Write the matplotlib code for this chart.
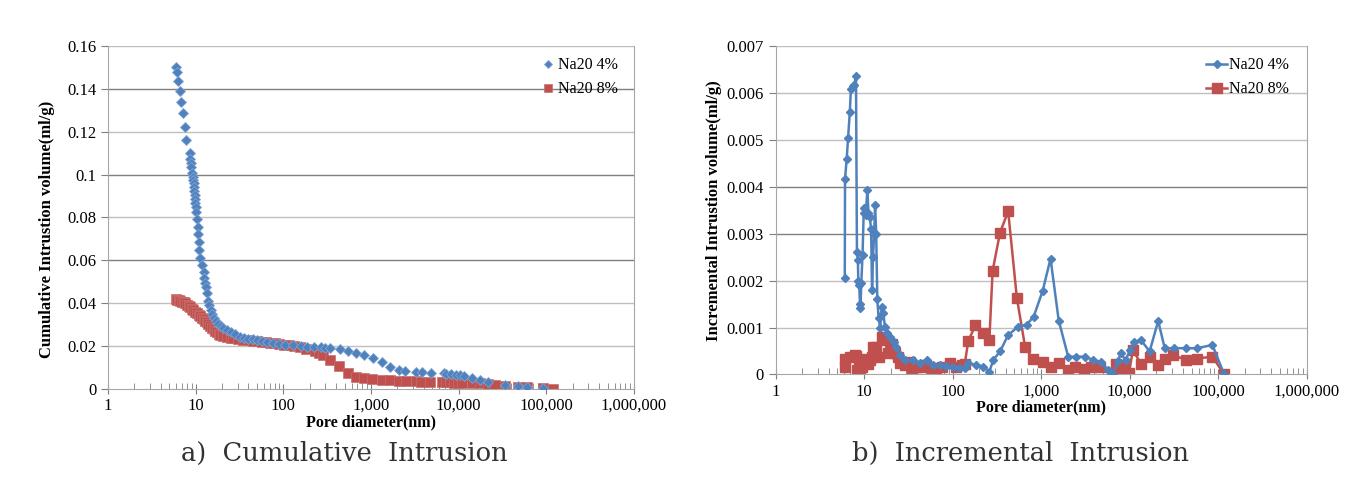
import numpy as np
import matplotlib
matplotlib.use('Agg')
import matplotlib.pyplot as plt
from matplotlib.ticker import FixedLocator, LogLocator, FuncFormatter, NullFormatter

# Cumulative intrusion, Na20 4%
cum4_x = [6.04, 6.1, 6.3, 6.6, 6.75, 7.2, 7.6, 7.85, 8.5, 8.6, 8.75, 8.85, 9.19, 9.25,
          9.36, 9.45, 9.6, 9.68, 9.76, 9.85, 9.93, 10.0, 10.1, 10.3, 10.5, 10.6, 10.8,
          11.0, 11.3, 11.7, 12.3, 12.5, 12.8, 13.2, 13.4, 13.7, 14.2, 14.8, 15.5, 16.3,
          17.2, 18.2, 19.3, 20.5, 22.7, 25, 28, 32, 36, 40, 45, 50, 57, 65, 77, 90, 105,
          130, 160, 187, 225, 266, 300, 344, 440, 552, 680, 826, 1050, 1320, 1630, 2090,
          2460, 3230, 3830, 4800, 6780, 7200, 8100, 9300, 10400, 11600, 14200, 17600,
          21400, 33500, 47000, 61000, 92000]
cum4_y = [.1503, .148, .1438, .139, .134, .1286, .122, .1163, .110, .1074, .1056, .1034,
          .1006, .099, .0975, .096, .0944, .0925, .0905, .0885, .0866, .0848, .0826,
          .0793, .0754, .0723, .0687, .0648, .0612, .0578, .0547, .0516, .0493, .0474,
          .0446, .0412, .0392, .0370, .0350, .0333, .0318, .0305, .0294, .0285, .0275,
          .0265, .0255, .0244, .0238, .0234, .0231, .0229, .0224, .0218, .0213, .0209,
          .0207, .0205, .0200, .0197, .0196, .0194, .0192, .0190, .0185, .0177, .0167,
          .0159, .0146, .0124, .0101, .0089, .0085, .0081, .0078, .0073, .0073, .0072,
          .0070, .0067, .0064, .0061, .0051, .0042, .0033, .0020, .0015, .0011, .0006]

# Cumulative intrusion, Na20 8%
cum8_x = [6.0, 6.2, 6.4, 6.7, 7.0, 7.3, 7.6, 8.0, 8.3, 8.7, 9.0, 9.4, 9.9, 10.4, 10.8,
          11.3, 11.8, 12.3, 12.8, 13.3, 13.9, 14.6, 15.2, 16.0, 16.7, 17.5, 18.3, 19.1,
          20.5, 22.7, 25, 27, 30, 35, 40, 45, 50, 57, 64, 71, 80, 90, 101, 115, 131, 154,
          181, 227, 258, 284, 344, 427, 540, 675, 825, 1030, 1320, 1630, 2080, 2520, 3230,
          3760, 4750, 6450, 7200, 8000, 8800, 9800, 11000, 14200, 17600, 21400, 26100,
          33500, 47000, 61000, 92000, 120000]
cum8_y = [.0418, .0416, .0414, .0412, .0408, .0404, .0400, .0394, .0388, .0381, .0375,
          .0368, .0361, .0354, .0347, .0340, .0333, .0326, .0319, .0311, .0303, .0294,
          .0286, .0278, .0270, .0264, .0258, .0252, .0248, .0244, .0240, .0236, .0233,
          .0229, .0227, .0226, .0224, .0221, .0219, .0216, .0213, .0210, .0207, .0204,
          .0201, .0194, .0185, .0179, .0169, .0159, .0135, .0107, .0073, .0056, .0051,
          .0048, .0043, .0041, .0037, .0037, .0037, .0034, .0034, .0034, .0032, .0031,
          .0030, .0030, .0030, .0026, .0026, .0022, .0019, .0014, .0010, .0010, .0006, .0]

# Incremental intrusion, Na20 4%
inc4_x = [6.05, 6.09, 6.36, 6.6, 6.9, 7.1, 7.4, 7.75, 8.1, 8.3, 8.5, 8.6, 8.8, 9.0, 9.1,
          9.3, 9.6, 9.9, 10.1, 10.4, 10.9, 11.2, 11.6, 12.0, 12.3, 12.6, 13.0, 13.3, 13.7,
          14.1, 14.6, 15.2, 15.8, 16.5, 17.2, 18.3, 19.8, 21.5, 23.0, 25.4, 29, 36, 43,
          51, 60, 72, 85, 101, 118, 137, 150, 186, 220, 260, 288, 343, 424, 550, 685, 822,
          1040, 1277, 1580, 2020, 2500, 3140, 3860, 4700, 5670, 6400, 7400, 7900, 9000,
          10100, 11300, 13500, 16800, 21000, 24900, 32000, 43800, 58000, 86000, 117000]
inc4_y = [.00206, .00416, .00460, .00505, .00560, .00609, .00615, .00617, .00637, .00260,
          .00245, .00200, .00190, .00150, .00142, .00195, .00255, .00345, .00355, .00340,
          .00393, .00345, .00335, .00310, .00180, .00250, .00300, .00362, .00300, .00160,
          .00120, .00098, .00144, .00130, .00102, .00088, .00080, .00070, .00059, .00041,
          .00031, .00031, .00025, .00031, .00020, .00020, .00018, .00017, .00013, .00013,
          .00024, .00020, .00017, .00006, .00031, .00049, .00084, .00102, .00106, .00123,
          .00178, .00247, .00115, .00038, .00038, .00038, .00031, .00027, .00010, .0,
          .00029, .00045, .00031, .00052, .00070, .00073, .00049, .00114, .00056, .00056,
          .00056, .00056, .00063, .0]

# Incremental intrusion, Na20 8%
inc8_x = [6.1, 6.15, 6.9, 7.8, 8.2, 8.4, 8.7, 9.0, 9.5, 10.0, 10.5, 11.0, 11.6, 12.2,
          12.7, 13.8, 14.7, 16.0, 17.2, 18.4, 20.4, 22.2, 24.2, 25.4, 28.9, 33, 35, 39,
          46, 50, 57.8, 65, 75, 93, 110, 126, 137, 150, 181, 220, 260, 283, 343, 424, 532,
          660, 814, 1040, 1290, 1590, 2020, 2420, 3080, 3670, 4600, 6400, 6940, 7560,
          8800, 9800, 10900, 13500, 16800, 20900, 24900, 31000, 43800, 58000, 86000, 117000]
inc8_y = [.00017, .00034, .00038, .00041, .00040, .00010, .00024, .00006, .00017, .00024,
          .00032, .00022, .00030, .00038, .00059, .00059, .00038, .00080, .00073, .00045,
          .00066, .00045, .00038, .00024, .00020, .00027, .00006, .00017, .00017, .00020,
          .00010, .00013, .00017, .00025, .00017, .00020, .00022, .00071, .00105, .00088,
          .00073, .00221, .00302, .00348, .00163, .00058, .00032, .00026, .00017, .00025,
          .00010, .00015, .00011, .00015, .00017, .00003, .00022, .00013, .00017, .00004,
          .00052, .00022, .00038, .00020, .00034, .00041, .00031, .00034, .00038, .0]

labels = ['Na20 4%', 'Na20 8%']
decades = [1, 10, 100, 1000, 10000, 100000, 1000000]

blue = '#4F81BD'
red = '#C0504D'
serif = 'Liberation Serif'

fig = plt.figure(figsize=(13.71, 4.93), dpi=100)
ax1 = fig.add_axes([0.0788, 0.211, 0.3836, 0.6957])
ax2 = fig.add_axes([0.5657, 0.2404, 0.3874, 0.6663])


def style_axis(ax, ymax, ystep, dark, fmt):
    ax.set_xscale('log')
    ax.set_xlim(1, 1e6)
    ax.set_ylim(0, ymax)
    ax.xaxis.set_major_locator(FixedLocator(decades))
    ax.xaxis.set_major_formatter(FuncFormatter(lambda v, p: '{:,}'.format(int(round(v)))))
    ax.xaxis.set_minor_locator(LogLocator(base=10, subs=np.arange(2, 10), numticks=20))
    ax.xaxis.set_minor_formatter(NullFormatter())
    yt = np.arange(0, ymax + ystep / 2, ystep)
    ax.set_yticks(yt)
    ax.set_yticklabels(['0' if v == 0 else fmt.format(v) for v in yt])
    # gridlines, a few drawn darker like the original
    for v in yt[1:]:
        c = '#7f7f7f' if any(abs(v - d) < ystep / 10 for d in dark) else '#bfbfbf'
        ax.axhline(v, color=c, lw=1, zorder=0)
    for s in ['left', 'bottom', 'right']:
        ax.spines[s].set_color('#a6a6a6')
    ax.spines['top'].set_visible(False)
    ax.tick_params(axis='x', which='major', direction='inout', length=7, color='#7f7f7f',
                   labelsize=12, pad=3)
    ax.tick_params(axis='x', which='minor', direction='in', length=4, color='#7f7f7f')
    ax.tick_params(axis='y', direction='out', length=5, color='#7f7f7f', labelsize=12)
    for t in ax.get_xticklabels() + ax.get_yticklabels():
        t.set_fontfamily(serif)
    ax.set_xlabel('Pore diameter(nm)', fontfamily=serif, fontweight='bold', fontsize=11.5,
                  labelpad=0)


# a) cumulative
style_axis(ax1, 0.16, 0.02, [0.14, 0.10, 0.06], '{:g}')
ax1.plot(cum4_x, cum4_y, 'D', color=blue, ms=5.2, mec='#7fa3d3', mew=0.6,
         label=labels[0], zorder=3)
ax1.plot(cum8_x, cum8_y, 's', color=red, ms=7, mec='#c86f6d', mew=0.5,
         label=labels[1], zorder=2)
ax1.set_ylabel('Cumulative Intrustion volume(ml/g)', fontfamily=serif,
               fontweight='bold', fontsize=12)
ax1.yaxis.set_label_coords(-0.1, 0.465)
ax1.legend(loc='upper left', bbox_to_anchor=(0.8, 1.0), frameon=False,
           prop={'family': serif, 'size': 11.5}, handletextpad=0.1, labelspacing=0.5,
           handlelength=1.0, borderaxespad=0.3, markerscale=0.8)

# b) incremental
style_axis(ax2, 0.007, 0.001, [0.004, 0.003], '{:.3f}')
ax2.plot(inc4_x, inc4_y, '-D', color=blue, lw=1.8, ms=4, mec=blue,
         label=labels[0], zorder=3)
ax2.plot(inc8_x, inc8_y, '-s', color=red, lw=1.8, ms=6.5, mec=red,
         label=labels[1], zorder=2)
ax2.set_ylabel('Incremental Intrustion volume(ml/g)', fontfamily=serif,
               fontweight='bold', fontsize=12, labelpad=3)
ax2.legend(loc='upper left', bbox_to_anchor=(0.79, 1.0), frameon=False,
           prop={'family': serif, 'size': 11.5}, handletextpad=0.1, labelspacing=0.5,
           handlelength=1.3, borderaxespad=0.3)

fig.text(0.2515, 0.081, 'a)  Cumulative  Intrusion', ha='center', va='center',
         fontfamily='DejaVu Serif', fontsize=18.5, color='#333333')
fig.text(0.7445, 0.081, 'b)  Incremental  Intrusion', ha='center', va='center',
         fontfamily='DejaVu Serif', fontsize=18.5, color='#333333')

fig.savefig('out.png', dpi=100)
